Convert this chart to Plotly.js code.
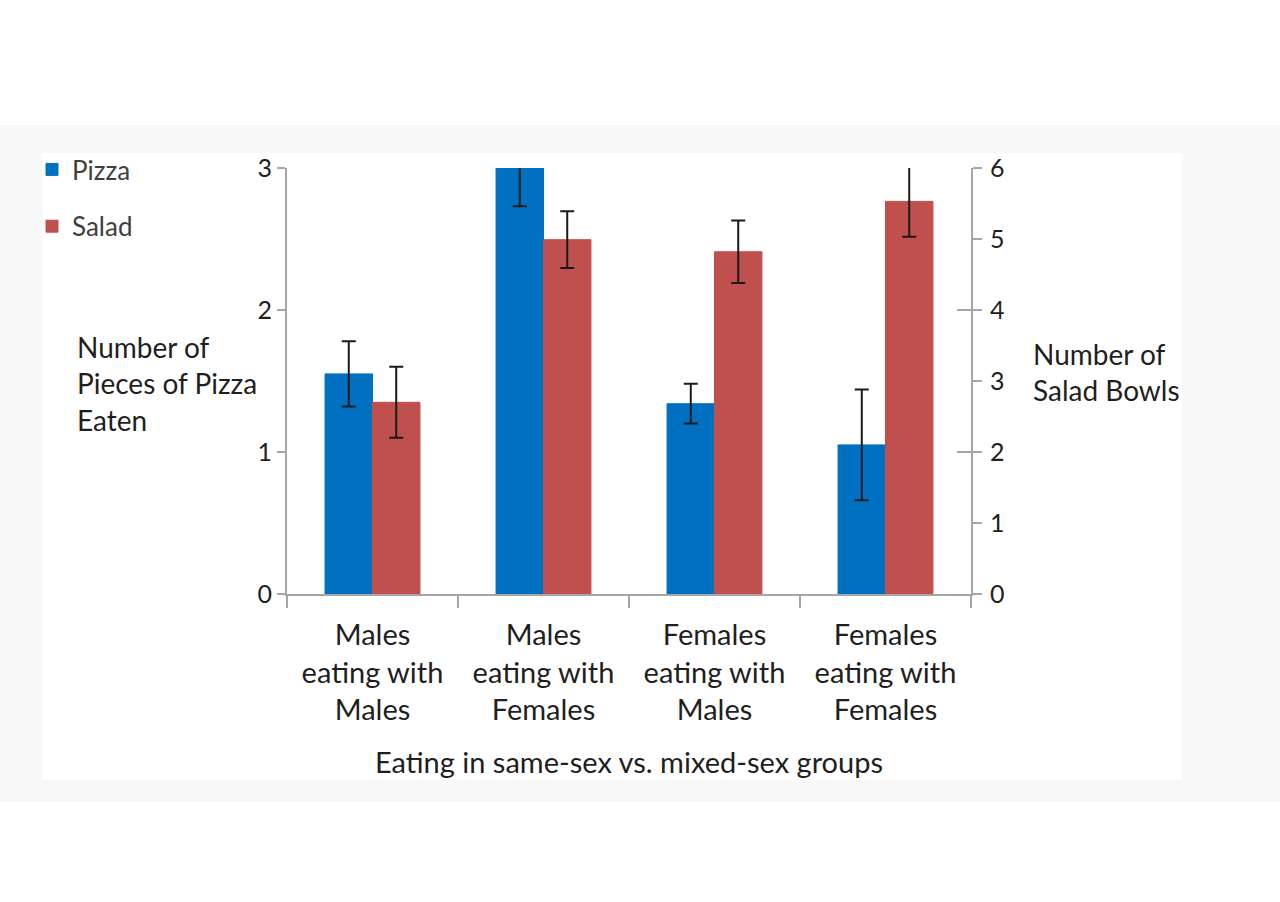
<!DOCTYPE html>
<html>
<head>
<meta charset="utf-8">
<script src="https://cdn.plot.ly/plotly-3.0.1.min.js"></script>
<style>html,body{margin:0;padding:0;background:#fff;}#chart{width:1280px;height:902px;}</style>
</head>
<body>
<div id="chart"></div>
<script>
const categories = [
  "Males<br>eating with<br>Males",
  "Males<br>eating with<br>Females",
  "Females<br>eating with<br>Males",
  "Females<br>eating with<br>Females"
];
const pizzaValues = [1.55, 3.0, 1.34, 1.05];
const pizzaErrors = [0.23, 0.27, 0.14, 0.39];
const saladValues = [2.70, 4.99, 4.82, 5.53];
const saladErrors = [0.50, 0.40, 0.44, 0.50];
const leftTicks = [0, 1, 2, 3];
const rightTicks = [0, 1, 2, 3, 4, 5, 6];

const FONT = "Lato, 'Open Sans', sans-serif";
const TXT = "#1f1f1f";
const AX = "#a6a6a6";

const traces = [
  {
    type: "bar", name: "Pizza", x: categories, y: pizzaValues,
    xaxis: "x", yaxis: "y", offsetgroup: "pizza", legendgroup: "pizza",
    marker: {color: "#0070c0", line: {color: "#0070c0", width: 1}},
    error_y: {type: "data", array: pizzaErrors, visible: true, color: "#1a1a1a", thickness: 2, width: 7},
    hoverinfo: "skip"
  },
  {
    type: "bar", name: "Salad", x: categories, y: saladValues,
    xaxis: "x", yaxis: "y2", offsetgroup: "salad", legendgroup: "salad",
    marker: {color: "#c0504d", line: {color: "#c0504d", width: 1}},
    error_y: {type: "data", array: saladErrors, visible: true, color: "#1a1a1a", thickness: 2, width: 7},
    hoverinfo: "skip"
  },
  {
    type: "scatter", x: [categories[0]], y: [0], yaxis: "y3", xaxis: "x",
    mode: "markers", marker: {opacity: 0}, showlegend: false, hoverinfo: "skip"
  }
];

const layout = {
  width: 1280, height: 902,
  paper_bgcolor: "#ffffff", plot_bgcolor: "rgba(0,0,0,0)",
  font: {family: FONT, color: TXT, size: 24},
  margin: {l: 287, r: 309, t: 168, b: 308, pad: 0},
  barmode: "group", bargap: 0.445, bargroupgap: 0,
  showlegend: true,
  legend: {
    x: (32 - 287) / 684, xref: "paper", xanchor: "left",
    y: (594 - 146) / 426, yanchor: "top",
    font: {size: 26, color: "#404040", family: FONT},
    tracegroupgap: 20, itemwidth: 30, bgcolor: "rgba(0,0,0,0)"
  },
  xaxis: {
    type: "category", domain: [0, 1],
    showline: true, linecolor: AX, linewidth: 2,
    ticks: "outside", tickson: "boundaries", ticklen: 12, tickcolor: AX, tickwidth: 2,
    ticklabelstandoff: 14,
    tickfont: {size: 29, color: TXT, family: FONT},
    showgrid: false, zeroline: false,
    title: {text: "Eating in same-sex vs. mixed-sex groups", font: {size: 29, color: TXT, family: FONT}, standoff: 27}
  },
  yaxis: {
    range: [0, 3], tickvals: leftTicks, ticktext: leftTicks.map(String),
    showline: true, linecolor: AX, linewidth: 2,
    ticks: "outside", ticklen: 8, tickcolor: AX, tickwidth: 2,
    tickfont: {size: 25, color: TXT, family: FONT},
    showgrid: false, zeroline: false
  },
  yaxis2: {
    range: [0, 6], overlaying: "y", side: "right", anchor: "x",
    tickvals: rightTicks, ticktext: rightTicks.map(String),
    showline: true, linecolor: AX, linewidth: 2,
    ticks: "outside", ticklen: 9, tickcolor: AX, tickwidth: 2,
    ticklabelstandoff: 3,
    tickfont: {size: 25, color: TXT, family: FONT},
    showgrid: false, zeroline: false
  },
  yaxis3: {
    range: [0, 3], overlaying: "y", side: "right", anchor: "x",
    tickvals: leftTicks, showticklabels: false,
    showline: false, ticks: "inside", ticklen: 14, tickcolor: AX, tickwidth: 2,
    showgrid: false, zeroline: false
  },
  shapes: [
    {type: "rect", xref: "paper", yref: "paper", layer: "below",
     x0: -287/684, x1: (1280-287)/684, y0: (594-802)/426, y1: (594-125)/426,
     fillcolor: "#f8f8f8", line: {width: 0}},
    {type: "rect", xref: "paper", yref: "paper", layer: "below",
     x0: (42-287)/684, x1: (1182-287)/684, y0: (594-780)/426, y1: (594-153)/426,
     fillcolor: "#ffffff", line: {width: 0}}
  ],
  annotations: [
    {text: "Number of<br>Pieces of Pizza<br>Eaten", xref: "paper", yref: "paper",
     x: (75-287)/684, xanchor: "left", y: (594-383)/426, yanchor: "middle",
     align: "left", showarrow: false, font: {size: 28, color: TXT, family: FONT}},
    {text: "Number of<br>Salad Bowls", xref: "paper", yref: "paper",
     x: (1031-287)/684, xanchor: "left", y: (594-372)/426, yanchor: "middle",
     align: "left", showarrow: false, font: {size: 28, color: TXT, family: FONT}}
  ]
};

Plotly.newPlot("chart", traces, layout, {displayModeBar: false, staticPlot: true});
</script>
</body>
</html>
